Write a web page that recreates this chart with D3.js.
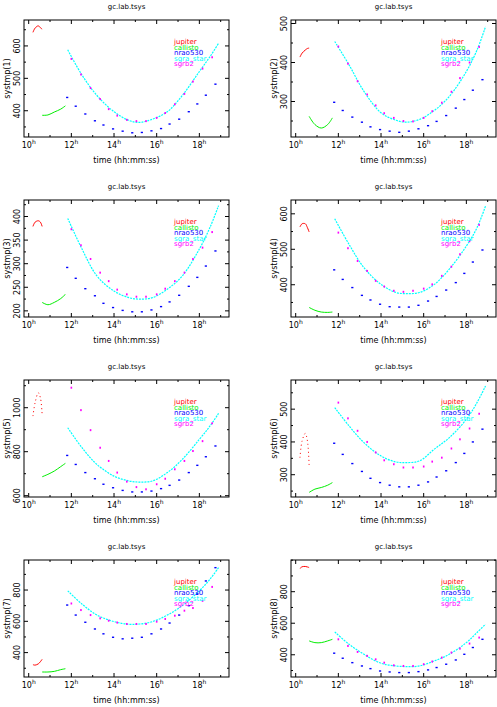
<!DOCTYPE html>
<html>
<head>
<meta charset="utf-8">
<script src="https://cdn.jsdelivr.net/npm/d3@7"></script>
<style>
body { margin: 0; background: #fff; }
text { font-family: "DejaVu Sans", sans-serif; }
</style>
</head>
<body>
<div id="root"></div>
<script>
var width = 497;
var height = 707;

// observation times (hours)
var tJup = [10.2, 10.3, 10.45, 10.55, 10.63];
var tCal = [10.63, 10.9, 11.2, 11.5, 11.72];
var tSgra = [11.83, 12.5, 13.2, 14, 14.7, 15.2, 15.8, 16.5, 17.2, 18, 18.5, 18.9];
var tNrao = [11.8, 12.2, 12.65, 13.1, 13.5, 13.95, 14.4, 14.85, 15.3, 15.75, 16.2, 16.6, 17.05, 17.5, 17.9, 18.3, 18.75];
var tSgrb2 = [12, 12.45, 12.9, 13.35, 13.75, 14.15, 14.6, 15.05, 15.5, 16, 16.4, 16.85, 17.3, 17.7, 18.15, 18.6];

var sources = ["jupiter", "callisto", "nrao530", "sgra_star", "sgrb2"];
var colors = ["#ff0000", "#00ee00", "#0000ff", "#00ffff", "#ff00ff"];

// systmp(1) .. systmp(8)
var jupiter = [
  [642, 655, 662, 656, 652],
  [414, 424, 432, 436, 437],
  [379, 388, 391, 388, 379],
  [563, 572, 572, 561, 549],
  [962, 1023, 1068, 1045, 970],
  [352, 403, 426, 403, 329],
  [323, 320, 328, 342, 357],
  [947, 958, 960, 957, 953]
];
var callisto = [
  [386, 387, 396, 405, 415],
  [262, 241, 232, 241, 258],
  [218, 213, 218, 226, 235],
  [336, 328, 323, 322, 323],
  [686, 697, 712, 732, 747],
  [246, 256, 261, 268, 276],
  [276, 276, 280, 291, 297],
  [488, 477, 477, 488, 498]
];
var sgraStar = [
  [588, 510, 447, 397, 370, 364, 374, 397, 447, 521, 567, 608],
  [454, 394, 326, 271, 252, 247, 254, 277, 313, 377, 432, 492],
  [396, 331, 274, 242, 228, 225, 228, 246, 274, 331, 377, 423],
  [586, 514, 448, 401, 378, 375, 378, 401, 444, 509, 561, 622],
  [909, 818, 742, 689, 667, 662, 667, 705, 765, 856, 917, 974],
  [505, 449, 398, 357, 339, 337, 342, 378, 413, 469, 520, 571],
  [795, 710, 640, 598, 581, 583, 598, 640, 700, 795, 869, 943],
  [545, 467, 403, 346, 329, 325, 329, 361, 403, 477, 541, 594]
];
var nrao530 = [
  [441, 414, 390, 369, 356, 344, 337, 332, 333, 338, 345, 359, 374, 397, 421, 448, 482],
  [298, 277, 260, 247, 235, 228, 224, 221, 224, 230, 238, 249, 264, 283, 305, 329, 356],
  [292, 269, 247, 232, 216, 207, 201, 198, 198, 202, 209, 219, 233, 252, 271, 295, 327],
  [442, 415, 392, 370, 357, 345, 338, 337, 337, 342, 354, 367, 385, 406, 432, 464, 498],
  [783, 742, 705, 677, 652, 636, 624, 617, 617, 621, 632, 647, 671, 705, 738, 777, 826],
  [396, 362, 334, 310, 289, 276, 268, 263, 263, 268, 278, 293, 312, 337, 365, 400, 439],
  [704, 640, 594, 551, 520, 498, 488, 492, 498, 520, 551, 589, 640, 700, 774, 858, 943],
  [410, 378, 350, 329, 312, 297, 291, 287, 287, 293, 304, 319, 340, 367, 403, 446, 498]
];
var sgrb2 = [
  [560, 512, 470, 436, 405, 385, 372, 368, 368, 378, 393, 420, 452, 490, 530, 565],
  [441, 397, 352, 318, 290, 270, 258, 250, 249, 258, 275, 297, 325, 360, 400, 440],
  [373, 339, 310, 281, 263, 245, 235, 230, 230, 235, 247, 263, 281, 310, 334, 367],
  [547, 503, 467, 439, 411, 395, 383, 380, 383, 389, 401, 425, 451, 486, 523, 569],
  [1091, 989, 898, 818, 758, 705, 664, 639, 629, 652, 677, 720, 758, 803, 848, 929],
  [520, 472, 434, 400, 368, 344, 332, 322, 322, 325, 340, 352, 380, 408, 441, 486],
  [714, 672, 640, 619, 604, 592, 583, 583, 583, 598, 615, 636, 668, 685, 731, 820],
  [498, 456, 418, 393, 371, 350, 333, 329, 329, 340, 357, 382, 414, 439, 471, 509]
];

var yDomains = [[319, 680], [209, 509], [187, 435], [309, 639], [594, 1126], [232, 589], [244, 992], [259, 1001]];
var yTicks = [[400, 500, 600], [300, 400, 500], [200, 250, 300, 350, 400], [400, 500, 600],
  [600, 800, 1000], [300, 400, 500], [400, 600, 800], [400, 600, 800]];
var yMinor = [50, 50, 25, 50, 100, 50, 100, 100];
var xDomain = [9.78, 19.39];
var xLabelHours = [10, 12, 14, 16, 18];

var svg = d3.select("#root").append("svg")
  .attr("width", width).attr("height", height);

var pw = 205, ph = 117;

for (var i = 0; i < 8; i++) drawPanel(i);

function drawPanel(i) {
  var col = i % 2, row = Math.floor(i / 2);
  var left = col == 0 ? 24 : 291;
  var top = 20 + row * 180;
  var g = svg.append("g").attr("transform", "translate(" + left + "," + top + ")");

  var x = d3.scaleLinear().domain(xDomain).range([0, pw]);
  var y = d3.scaleLinear().domain(yDomains[i]).range([ph, 0]);

  g.append("rect").attr("width", pw).attr("height", ph)
    .attr("fill", "none").attr("stroke", "#000").attr("stroke-width", 1);

  // ticks inside the frame
  d3.range(10, 20).forEach(function(h) {
    var big = h % 2 == 0 ? 4 : 2;
    g.append("line").attr("x1", x(h)).attr("x2", x(h)).attr("y1", ph).attr("y2", ph - big).attr("stroke", "#000");
    g.append("line").attr("x1", x(h)).attr("x2", x(h)).attr("y1", 0).attr("y2", big).attr("stroke", "#000");
  });
  var step = yMinor[i];
  var minors = d3.range(Math.ceil(yDomains[i][0] / step) * step, yDomains[i][1], step);
  minors.forEach(function(v) {
    var big = yTicks[i].indexOf(v) >= 0 ? 4 : 2;
    g.append("line").attr("x1", 0).attr("x2", big).attr("y1", y(v)).attr("y2", y(v)).attr("stroke", "#000");
    g.append("line").attr("x1", pw).attr("x2", pw - big).attr("y1", y(v)).attr("y2", y(v)).attr("stroke", "#000");
  });

  xLabelHours.forEach(function(h) {
    var t = g.append("text").attr("x", x(h)).attr("y", ph + 11)
      .attr("text-anchor", "middle").attr("font-size", 8);
    t.append("tspan").text(h);
    t.append("tspan").attr("dy", -4).attr("font-size", 6).text("h");
  });
  yTicks[i].forEach(function(v) {
    g.append("text").attr("transform", "translate(-4," + y(v) + ") rotate(-90)")
      .attr("text-anchor", "middle").attr("font-size", 8).text(v);
  });

  g.append("text").attr("x", pw / 2).attr("y", -11).attr("text-anchor", "middle")
    .attr("font-size", 7).text("gc.lab.tsys");
  g.append("text").attr("x", pw / 2).attr("y", ph + 26).attr("text-anchor", "middle")
    .attr("font-size", 8).text("time (hh:mm:ss)");
  g.append("text").attr("transform", "translate(-14," + (ph / 2) + ") rotate(-90)")
    .attr("text-anchor", "middle").attr("font-size", 8).text("systmp(" + (i + 1) + ")");

  var line = d3.line().curve(d3.curveCatmullRom)
    .x(function(d) { return x(d[0]); }).y(function(d) { return y(d[1]); });
  var zip = function(t, v) { return t.map(function(d, k) { return [d, v[k]]; }); };

  // jupiter: dotted in panels 5 and 6
  g.append("path").datum(zip(tJup, jupiter[i])).attr("d", line).attr("fill", "none")
    .attr("stroke", colors[0]).attr("stroke-width", 1)
    .attr("stroke-dasharray", (i == 4 || i == 5) ? "1,3" : null);
  g.append("path").datum(zip(tCal, callisto[i])).attr("d", line).attr("fill", "none")
    .attr("stroke", colors[1]).attr("stroke-width", 1);
  g.append("path").datum(zip(tSgra, sgraStar[i])).attr("d", line).attr("fill", "none")
    .attr("stroke", colors[3]).attr("stroke-width", 1.2).attr("stroke-dasharray", "2,1");

  g.selectAll(".nrao").data(zip(tNrao, nrao530[i])).enter().append("rect")
    .attr("x", function(d) { return x(d[0]) - 1; }).attr("y", function(d) { return y(d[1]) - 0.7; })
    .attr("width", 2.2).attr("height", 1.4).attr("fill", colors[2]);
  g.selectAll(".sgrb2").data(zip(tSgrb2, sgrb2[i])).enter().append("rect")
    .attr("x", function(d) { return x(d[0]) - 0.8; }).attr("y", function(d) { return y(d[1]) - 1; })
    .attr("width", 1.6).attr("height", 2).attr("fill", colors[4]);

  var leg = g.append("g").attr("transform", "translate(150,24)");
  sources.forEach(function(s, k) {
    leg.append("text").attr("x", 0).attr("y", k * 5.5).attr("font-size", 7)
      .attr("fill", colors[k]).text(s);
  });
}
</script>
</body>
</html>
